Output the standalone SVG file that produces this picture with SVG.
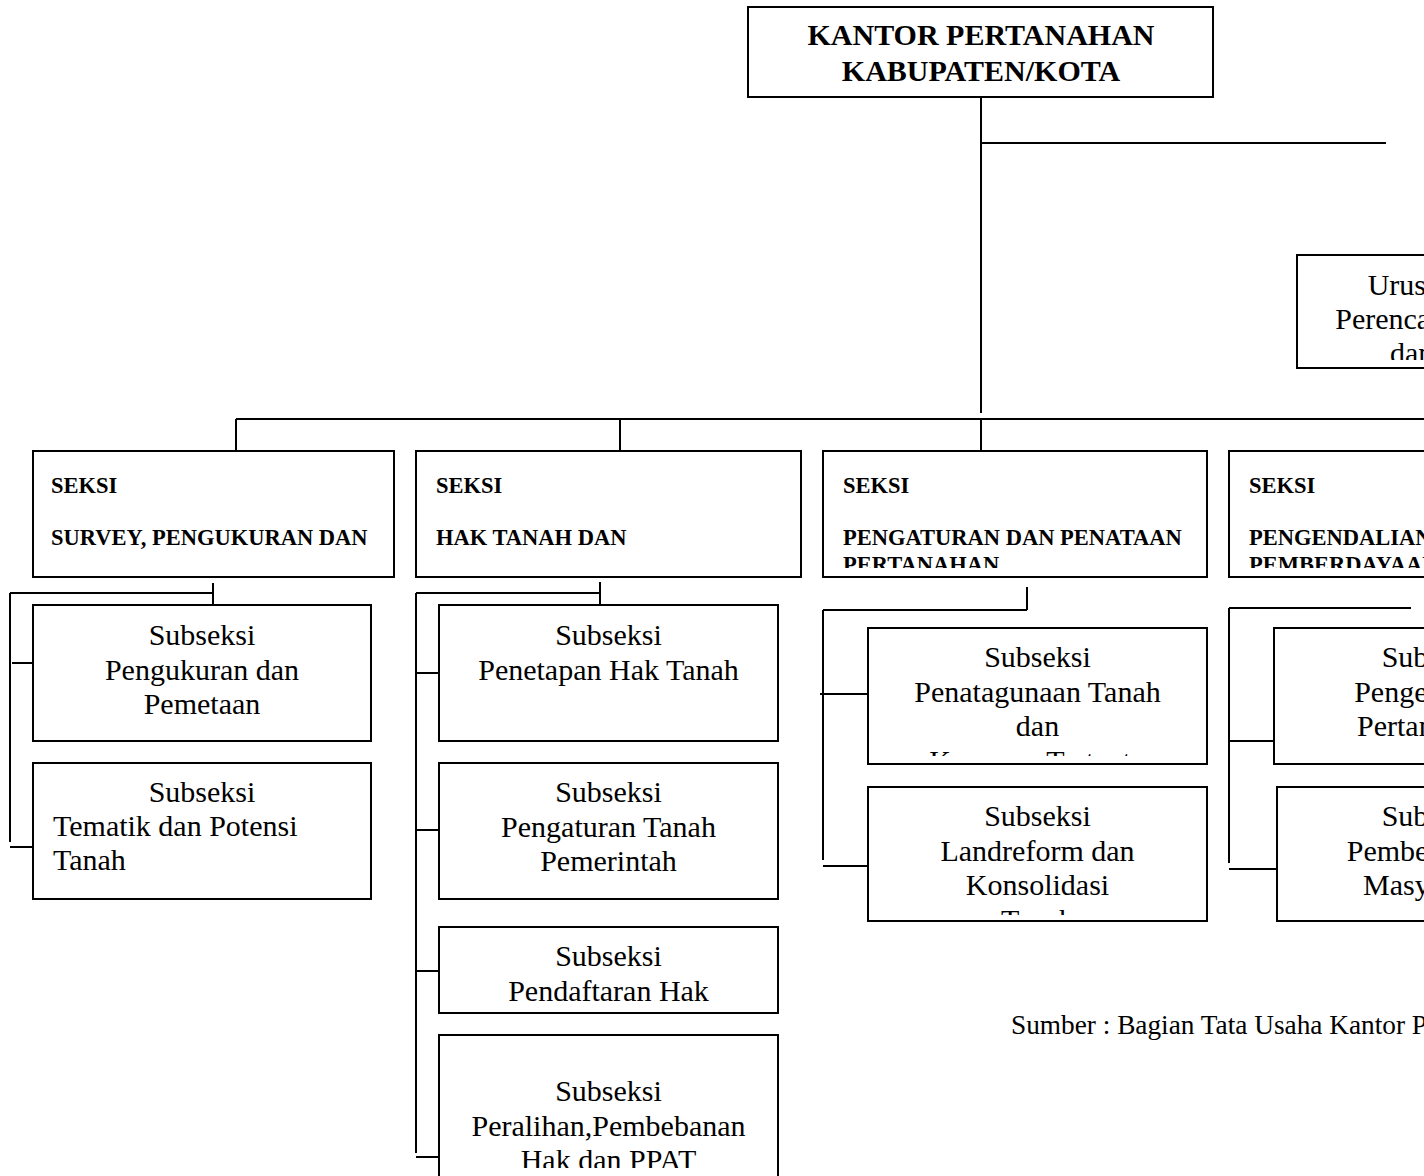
<svg xmlns="http://www.w3.org/2000/svg" width="1424" height="1176" viewBox="0 0 1424 1176">
<style>
.box{fill:#fff;stroke:#000;stroke-width:2}
.ln{stroke:#000;stroke-width:2;fill:none}
.t{font-family:"Liberation Serif","Times New Roman",serif;fill:#000}
.title{font-size:30px;font-weight:bold;text-anchor:middle}
.sk{font-size:22.5px;font-weight:bold}
.sub{font-size:30px;text-anchor:middle}
.st{text-anchor:start}
.src{font-size:27.3px}
</style>
<defs>
<clipPath id="cUr"><rect x="1298" y="256" width="200" height="104"/></clipPath>
<clipPath id="cS3"><rect x="824" y="452" width="382" height="116"/></clipPath>
<clipPath id="cS4"><rect x="1230" y="452" width="300" height="116"/></clipPath>
<clipPath id="c31"><rect x="869" y="629" width="337" height="127"/></clipPath>
<clipPath id="c32"><rect x="869" y="788" width="337" height="127"/></clipPath>
<clipPath id="c24"><rect x="440" y="1036" width="337" height="132"/></clipPath>
</defs>

<g id="connectors">
<line class="ln" x1="981" y1="97" x2="981" y2="413"/>
<line class="ln" x1="981" y1="143" x2="1386" y2="143"/>
<line class="ln" x1="236" y1="419" x2="1424" y2="419"/>
<line class="ln" x1="236" y1="419" x2="236" y2="451"/>
<line class="ln" x1="620" y1="419" x2="620" y2="451"/>
<line class="ln" x1="981" y1="419" x2="981" y2="451"/>
<line class="ln" x1="213" y1="583" x2="213" y2="605"/>
<line class="ln" x1="10" y1="593" x2="213" y2="593"/>
<line class="ln" x1="10" y1="593" x2="10" y2="842"/>
<line class="ln" x1="12" y1="663" x2="33" y2="663"/>
<line class="ln" x1="10" y1="847" x2="33" y2="847"/>
<line class="ln" x1="600" y1="582" x2="600" y2="605"/>
<line class="ln" x1="416" y1="593" x2="600" y2="593"/>
<line class="ln" x1="416" y1="593" x2="416" y2="1153"/>
<line class="ln" x1="416" y1="673" x2="439" y2="673"/>
<line class="ln" x1="416" y1="830" x2="439" y2="830"/>
<line class="ln" x1="416" y1="971" x2="439" y2="971"/>
<line class="ln" x1="416" y1="1157" x2="439" y2="1157"/>
<line class="ln" x1="1027" y1="587" x2="1027" y2="610"/>
<line class="ln" x1="823" y1="610" x2="1027" y2="610"/>
<line class="ln" x1="823" y1="610" x2="823" y2="860"/>
<line class="ln" x1="820" y1="694" x2="868" y2="694"/>
<line class="ln" x1="823" y1="866" x2="868" y2="866"/>
<line class="ln" x1="1229" y1="608" x2="1411" y2="608"/>
<line class="ln" x1="1229" y1="608" x2="1229" y2="863"/>
<line class="ln" x1="1229" y1="741" x2="1274" y2="741"/>
<line class="ln" x1="1229" y1="869" x2="1277" y2="869"/>
</g>

<g id="kantor">
<rect class="box" x="748" y="7" width="465" height="90"/>
<text class="t title" x="981" y="44.5">KANTOR PERTANAHAN</text>
<text class="t title" x="981" y="81">KABUPATEN/KOTA</text>
</g>

<g id="urusan">
<rect class="box" x="1297" y="255" width="200" height="113"/>
<g clip-path="url(#cUr)">
<text class="t sub" x="1411" y="295">Urusan</text>
<text class="t sub" x="1411" y="329">Perencanaan</text>
<text class="t sub st" x="1390" y="363">dan</text>
</g>
</g>

<g id="seksi1">
<rect class="box" x="33" y="451" width="361" height="126"/>
<text class="t sk" x="51" y="493">SEKSI</text>
<text class="t sk" x="51" y="545">SURVEY, PENGUKURAN DAN</text>
</g>
<g id="seksi2">
<rect class="box" x="416" y="451" width="385" height="126"/>
<text class="t sk" x="436" y="493">SEKSI</text>
<text class="t sk" x="436" y="545">HAK TANAH DAN</text>
</g>
<g id="seksi3">
<rect class="box" x="823" y="451" width="384" height="126"/>
<g clip-path="url(#cS3)">
<text class="t sk" x="843" y="493">SEKSI</text>
<text class="t sk" x="843" y="545">PENGATURAN DAN PENATAAN</text>
<text class="t sk" x="843" y="572">PERTANAHAN</text>
</g>
</g>
<g id="seksi4">
<rect class="box" x="1229" y="451" width="300" height="126"/>
<g clip-path="url(#cS4)">
<text class="t sk" x="1249" y="493">SEKSI</text>
<text class="t sk" x="1249" y="545">PENGENDALIAN DAN</text>
<text class="t sk" x="1249" y="572">PEMBERDAYAAN</text>
</g>
</g>

<g id="sub1a">
<rect class="box" x="33" y="605" width="338" height="136"/>
<text class="t sub" x="202" y="645">Subseksi</text>
<text class="t sub" x="202" y="679.5">Pengukuran dan</text>
<text class="t sub" x="202" y="714">Pemetaan</text>
</g>
<g id="sub1b">
<rect class="box" x="33" y="763" width="338" height="136"/>
<text class="t sub" x="202" y="802">Subseksi</text>
<text class="t sub st" x="53" y="836">Tematik dan Potensi</text>
<text class="t sub st" x="53" y="870">Tanah</text>
</g>

<g id="sub2a">
<rect class="box" x="439" y="605" width="339" height="136"/>
<text class="t sub" x="608.5" y="645">Subseksi</text>
<text class="t sub" x="608.5" y="679.5">Penetapan Hak Tanah</text>
</g>
<g id="sub2b">
<rect class="box" x="439" y="763" width="339" height="136"/>
<text class="t sub" x="608.5" y="802">Subseksi</text>
<text class="t sub" x="608.5" y="836.5">Pengaturan Tanah</text>
<text class="t sub" x="608.5" y="871">Pemerintah</text>
</g>
<g id="sub2c">
<rect class="box" x="439" y="927" width="339" height="86"/>
<text class="t sub" x="608.5" y="966">Subseksi</text>
<text class="t sub" x="608.5" y="1000.5">Pendaftaran Hak</text>
</g>
<g id="sub2d">
<rect class="box" x="439" y="1035" width="339" height="160"/>
<g clip-path="url(#c24)">
<text class="t sub" x="608.5" y="1101">Subseksi</text>
<text class="t sub" x="608.5" y="1135.5">Peralihan,Pembebanan</text>
<text class="t sub" x="608.5" y="1170">Hak dan PPAT</text>
</g>
</g>

<g id="sub3a">
<rect class="box" x="868" y="628" width="339" height="136"/>
<g clip-path="url(#c31)">
<text class="t sub" x="1037.5" y="667">Subseksi</text>
<text class="t sub" x="1037.5" y="701.5">Penatagunaan Tanah</text>
<text class="t sub" x="1037.5" y="736">dan</text>
<text class="t sub" x="1037.5" y="770.5">Kawasan Tertentu</text>
</g>
</g>
<g id="sub3b">
<rect class="box" x="868" y="787" width="339" height="134"/>
<g clip-path="url(#c32)">
<text class="t sub" x="1037.5" y="826">Subseksi</text>
<text class="t sub" x="1037.5" y="860.5">Landreform dan</text>
<text class="t sub" x="1037.5" y="895">Konsolidasi</text>
<text class="t sub" x="1037.5" y="929.5">Tanah</text>
</g>
</g>

<g id="sub4a">
<rect class="box" x="1274" y="628" width="339" height="136"/>
<text class="t sub" x="1435" y="667">Subseksi</text>
<text class="t sub" x="1435" y="701.5">Pengendalian</text>
<text class="t sub st" x="1357" y="736">Pertanahan</text>
</g>
<g id="sub4b">
<rect class="box" x="1277" y="787" width="339" height="134"/>
<text class="t sub" x="1435" y="826">Subseksi</text>
<text class="t sub" x="1435" y="860.5">Pemberdayaan</text>
<text class="t sub" x="1433" y="895">Masyarakat</text>
</g>

<g id="sumber">
<text class="t src" x="1011" y="1034">Sumber : Bagian Tata Usaha Kantor Pertanahan</text>
</g>
</svg>
